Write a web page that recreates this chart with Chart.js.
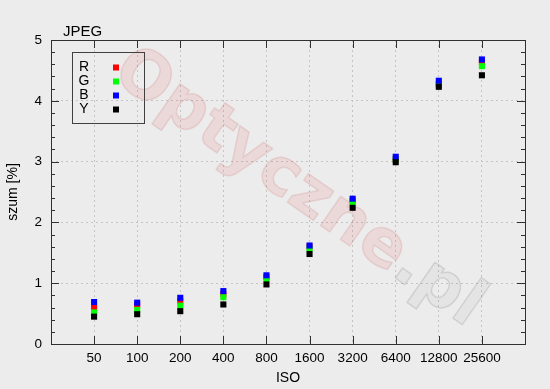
<!DOCTYPE html>
<html>
<head>
<meta charset="utf-8">
<script src="https://cdn.jsdelivr.net/npm/chart.js@4.4.1/dist/chart.umd.min.js"></script>
<style>
  html, body { margin: 0; padding: 0; background: #ececec; }
  #wrap { width: 550px; height: 389px; }
</style>
</head>
<body>
<div id="wrap"><canvas id="noise" width="550" height="389"></canvas></div>
<script>
// ISO categories and noise values (szum [%]) per channel
const isoLabels = ["50", "100", "200", "400", "800", "1600", "3200", "6400", "12800", "25600"];
const rVals = [0.60, 0.64, 0.70, 0.82, 1.10, 1.60, 2.36, 3.04, 4.28, 4.64];
const gVals = [0.52, 0.56, 0.63, 0.77, 1.07, 1.57, 2.33, 3.03, 4.27, 4.57];
const bVals = [0.69, 0.68, 0.76, 0.87, 1.13, 1.62, 2.39, 3.08, 4.33, 4.68];
const yVals = [0.45, 0.49, 0.54, 0.65, 0.98, 1.48, 2.24, 2.99, 4.23, 4.42];
const seriesNames = ["R", "G", "B", "Y"];
const seriesColors = ["#ff0000", "#00ff00", "#0000ff", "#000000"];

const FONT = "'Liberation Sans', Arial, Helvetica, sans-serif";

const toPoints = vals => vals.map((v, i) => ({ x: i + 1, y: v }));

// frame, inward ticks (major + minor), legend box, title, watermark
const gnuplotLook = {
  id: "gnuplotLook",
  beforeDatasetsDraw(chart) {
    const ctx = chart.ctx;
    ctx.save();
    ctx.translate(110, 78);
    ctx.rotate(35 * Math.PI / 180);
    ctx.font = "bold 65px 'DejaVu Sans', sans-serif";
    ctx.textAlign = "left";
    ctx.textBaseline = "alphabetic";
    ctx.lineJoin = "round";
    ctx.lineWidth = 1.5;
    ctx.fillStyle = "rgba(230,20,20,0.085)";
    ctx.strokeStyle = "rgba(170,40,40,0.12)";
    ctx.fillText("Optyczne", 0, 0);
    ctx.strokeText("Optyczne", 0, 0);
    const w = ctx.measureText("Optyczne").width;
    ctx.fillStyle = "rgba(0,0,0,0.03)";
    ctx.strokeStyle = "rgba(0,0,0,0.11)";
    ctx.fillText(".pl", w, 0);
    ctx.strokeText(".pl", w, 0);
    ctx.restore();
  },
  afterDraw(chart) {
    const ctx = chart.ctx;
    const a = chart.chartArea;
    const xs = chart.scales.x, ys = chart.scales.y;
    ctx.save();
    ctx.strokeStyle = "#303030";
    ctx.lineWidth = 1;
    ctx.beginPath();
    // x ticks, bottom and top
    isoLabels.forEach((_, i) => {
      const px = Math.round(xs.getPixelForValue(i + 1)) + 0.5;
      ctx.moveTo(px, a.bottom); ctx.lineTo(px, a.bottom - 8);
      ctx.moveTo(px, a.top); ctx.lineTo(px, a.top + 8);
    });
    // y ticks, left and right
    for (let k = 0; k <= 25; k++) {
      const v = k / 5;
      const py = Math.round(ys.getPixelForValue(v)) + 0.5;
      const len = k % 5 === 0 ? 8 : 4;
      ctx.moveTo(a.left, py); ctx.lineTo(a.left + len, py);
      ctx.moveTo(a.right, py); ctx.lineTo(a.right - len, py);
    }
    ctx.stroke();
    ctx.strokeRect(Math.round(a.left) + 0.5, Math.round(a.top) + 0.5,
      Math.round(a.right - a.left), Math.round(a.bottom - a.top));

    // title
    ctx.fillStyle = "#000";
    ctx.font = "15px " + FONT;
    ctx.textAlign = "left";
    ctx.textBaseline = "middle";
    ctx.fillText("JPEG", 63, 32);

    // legend
    ctx.strokeStyle = "#404040";
    ctx.strokeRect(72.5, 52.5, 72, 71);
    ctx.font = "14px " + FONT;
    ctx.textAlign = "center";
    seriesNames.forEach((name, i) => {
      const ly = 67.5 + i * 14;
      ctx.fillStyle = "#000";
      ctx.fillText(name, 84, ly);
      ctx.fillStyle = seriesColors[i];
      ctx.fillRect(113, ly - 3, 6, 6);
    });
    ctx.restore();
  }
};

const datasets = [rVals, gVals, bVals, yVals].map((vals, i) => ({
  label: seriesNames[i],
  data: toPoints(vals),
  backgroundColor: seriesColors[i],
  borderColor: seriesColors[i],
  pointStyle: "rect",
  pointRadius: 4.3,
  pointBorderWidth: 0,
  order: 4 - i
}));

new Chart(document.getElementById("noise"), {
  type: "scatter",
  data: { datasets },
  plugins: [gnuplotLook],
  options: {
    responsive: false,
    animation: false,
    events: [],
    layout: { padding: { top: 40, right: 25, left: 0, bottom: 0 } },
    plugins: { legend: { display: false }, tooltip: { enabled: false } },
    scales: {
      x: {
        type: "linear",
        min: 0,
        max: 11,
        afterBuildTicks: s => { s.ticks = isoLabels.map((_, i) => ({ value: i + 1 })); },
        afterFit: s => { s.height = 45; },
        ticks: {
          color: "#000",
          font: { family: FONT, size: 13.5 },
          padding: 6,
          maxRotation: 0,
          autoSkip: false,
          callback: v => isoLabels[v - 1]
        },
        grid: { color: "#c4c4c4", drawTicks: false, lineWidth: 1 },
        border: { display: false, dash: [2, 3] },
        title: {
          display: true,
          text: "ISO",
          color: "#000",
          font: { family: FONT, size: 14 },
          padding: { top: 0, bottom: 2 }
        }
      },
      y: {
        min: 0,
        max: 5,
        afterFit: s => { s.width = 51; },
        ticks: {
          stepSize: 1,
          color: "#000",
          font: { family: FONT, size: 13.5 },
          padding: 9
        },
        grid: { color: "#c4c4c4", drawTicks: false, lineWidth: 1 },
        border: { display: false, dash: [2, 3] },
        title: {
          display: true,
          text: "szum [%]",
          color: "#000",
          font: { family: FONT, size: 14 },
          padding: { top: 5, bottom: 0 }
        }
      }
    }
  }
});
</script>
</body>
</html>
